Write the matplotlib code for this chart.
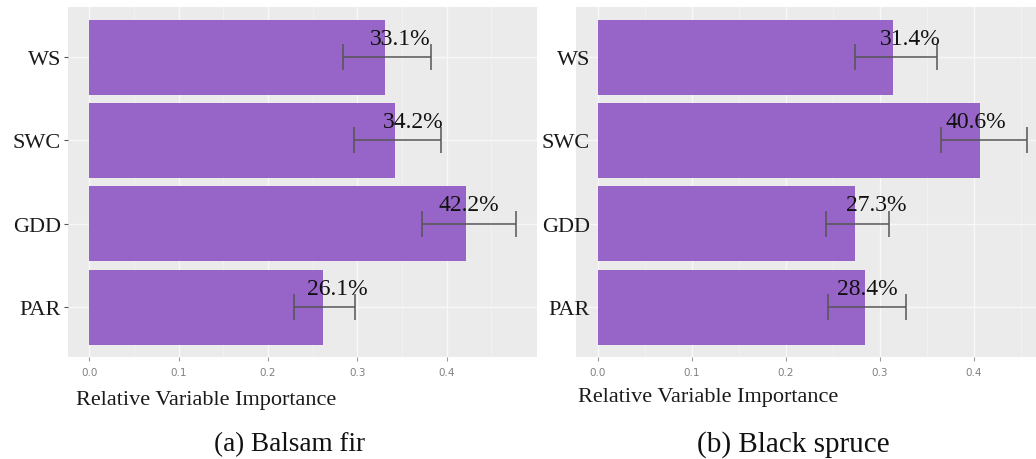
import numpy as np
import matplotlib.pyplot as plt

variables = ["PAR", "GDD", "SWC", "WS"]

# balsam fir
fir_imp = [0.261, 0.422, 0.342, 0.331]
fir_lo = [0.229, 0.372, 0.296, 0.284]
fir_hi = [0.297, 0.477, 0.393, 0.382]
fir_labels = ["26.1%", "42.2%", "34.2%", "33.1%"]

# black spruce
spruce_imp = [0.284, 0.273, 0.406, 0.314]
spruce_lo = [0.245, 0.243, 0.365, 0.273]
spruce_hi = [0.328, 0.310, 0.456, 0.361]
spruce_labels = ["28.4%", "27.3%", "40.6%", "31.4%"]

bar_col = "#9764c8"
W, H = 1036, 460

plt.rcParams["font.family"] = ["Liberation Serif", "DejaVu Serif"]

fig = plt.figure(figsize=(W / 100, H / 100), dpi=100)


def panel(rect, imp, lo, hi, labels, xlim, label_dx, ypad, ticklen):
    ax = fig.add_axes(rect)
    ax.set_facecolor("#ebebeb")
    y = np.arange(1, len(variables) + 1)
    imp = np.array(imp)
    lo = np.array(lo)
    hi = np.array(hi)

    # grid like ggplot's theme_grey
    for v in np.arange(0.05, 0.5, 0.1):
        ax.axvline(v, color="#f5f5f5", lw=0.5, zorder=0)
    for v in np.arange(0.0, 0.5, 0.1):
        ax.axvline(v, color="#f8f8f8", lw=1.0, zorder=0)
    for v in y:
        ax.axhline(v, color="#f8f8f8", lw=1.0, zorder=0)

    ax.barh(y, imp, height=0.9, color=bar_col, zorder=2)
    ax.errorbar((lo + hi) / 2, y, xerr=(hi - lo) / 2, fmt="none",
                ecolor="#555555", elinewidth=1.1, capsize=9.2,
                capthick=1.1, zorder=3)
    for yi, v, t, dx in zip(y, imp, labels, label_dx):
        ax.text(v + dx, yi + 0.16, t, ha="center", va="baseline",
                fontsize=17, color="#111111", zorder=4)

    ax.set_xlim(*xlim)
    ax.set_ylim(0.4, len(variables) + 0.6)
    ax.set_xticks([0.0, 0.1, 0.2, 0.3, 0.4])
    ax.set_xticklabels(["0.0", "0.1", "0.2", "0.3", "0.4"],
                       family="DejaVu Sans", fontsize=7.5, color="#808080")
    ax.set_yticks(y)
    ax.set_yticklabels(variables, fontsize=16, color="#1a1a1a")
    ax.tick_params(axis="x", length=3, color="#9a9a9a", pad=4)
    ax.tick_params(axis="y", length=ticklen, color="#555555", pad=ypad)
    for s in ax.spines.values():
        s.set_visible(False)
    return ax


axl = panel([68 / W, 102 / H, 469 / W, 350 / H],
            fir_imp, fir_lo, fir_hi, fir_labels, (-0.024, 0.501),
            [0.016, 0.003, 0.020, 0.017], 2.0, 3)
axr = panel([576 / W, 102 / H, 460 / W, 350 / H],
            spruce_imp, spruce_lo, spruce_hi, spruce_labels, (-0.0234, 0.466),
            [0.003, 0.023, -0.004, 0.018], -10.0, 0)

fig.text(76 / W, 1 - 401 / H, "Relative Variable Importance",
         fontsize=16, va="center", ha="left", color="#1a1a1a")
fig.text(578 / W, 1 - 398 / H, "Relative Variable Importance",
         fontsize=16, va="center", ha="left", color="#1a1a1a")

fig.text(290 / W, 1 - 445 / H, "(a) Balsam fir", fontsize=19.5,
         ha="center", va="center", color="#111111")
fig.text(793 / W, 1 - 445 / H, "(b) Black spruce", fontsize=21,
         ha="center", va="center", color="#111111")

fig.savefig("out.png", dpi=100)
